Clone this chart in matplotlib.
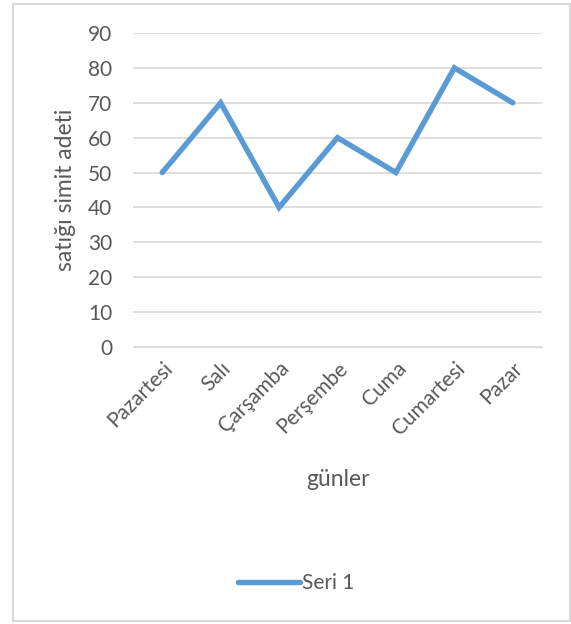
import numpy as np
import matplotlib.pyplot as plt
from matplotlib.patches import Rectangle

days = ["Pazartesi", "Salı", "Çarşamba", "Perşembe", "Cuma", "Cumartesi", "Pazar"]
sales = [50, 70, 40, 60, 50, 80, 70]
yticks = [0, 10, 20, 30, 40, 50, 60, 70, 80, 90]

W, H = 571, 624
fig = plt.figure(figsize=(W / 100, H / 100), dpi=100)
plt.rcParams['font.family'] = ['Lato', 'DejaVu Sans']
txt = '#595959'

# outer chart border
fig.patches.append(Rectangle((13 / W, 1 - 621 / H), 557 / W, 617 / H,
                             transform=fig.transFigure, fill=False,
                             edgecolor='#d9d9d9', lw=1.5))

ax = fig.add_axes([133 / W, 1 - 347 / H, (542 - 133) / W, (347 - 33) / H])
x = np.arange(len(days))
ax.plot(x, sales, color='#5b9bd5', lw=3.9, solid_capstyle='round',
        solid_joinstyle='miter', label='Seri 1', zorder=3)
ax.set_xlim(-0.5, len(days) - 0.5)
ax.set_ylim(0, 90)
ax.set_yticks(yticks)
ax.yaxis.grid(True, color='#d9d9d9', lw=1.2)
for s in ax.spines.values():
    s.set_visible(False)
ax.spines['bottom'].set_visible(True)
ax.spines['bottom'].set_color('#d9d9d9')
ax.tick_params(length=0, labelsize=15, labelcolor=txt)
ax.tick_params(axis='y', pad=15)
ax.set_xticks(x)
ax.set_xticklabels(days, rotation=45, ha='right', rotation_mode='anchor')
ax.tick_params(axis='x', pad=8)

fig.text(65 / W, 1 - 190 / H, 'satığı simit adeti', rotation=90, ha='center',
         va='center', fontsize=16.5, color=txt)
fig.text(338 / W, 1 - 480 / H, 'günler', ha='center', va='center',
         fontsize=16.5, color=txt)

fig.legend(loc='center', bbox_to_anchor=(296 / W, 1 - 583 / H), frameon=False,
           fontsize=15, labelcolor=txt, handlelength=3.0, handletextpad=0.1)

fig.savefig('out.png', dpi=100)
